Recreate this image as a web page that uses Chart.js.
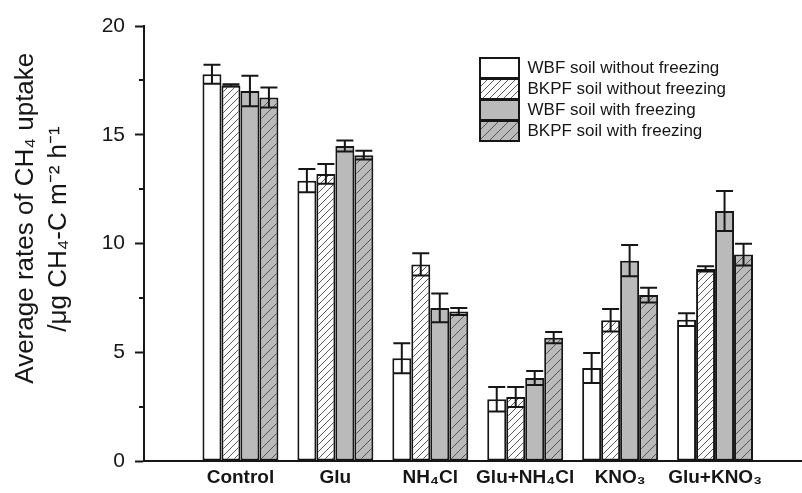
<!DOCTYPE html>
<html>
<head>
<meta charset="utf-8">
<script src="https://cdn.jsdelivr.net/npm/chart.js@4"></script>
<style>
  html, body { margin: 0; padding: 0; background: #fff; }
</style>
</head>
<body>
<canvas id="chart" width="802" height="493"></canvas>
<script>
var categories = ['Control', 'Glu', 'NH₄Cl', 'Glu+NH₄Cl', 'KNO₃', 'Glu+KNO₃'];
var seriesNames = ['WBF soil without freezing', 'BKPF soil without freezing', 'WBF soil with freezing', 'BKPF soil with freezing'];

var wbfNoFreeze = [17.78, 12.89, 4.72, 2.84, 4.28, 6.50];
var wbfNoFreezeErr = [0.44, 0.53, 0.69, 0.56, 0.69, 0.29];
var bkpfNoFreeze = [17.27, 13.20, 9.04, 2.94, 6.47, 8.83];
var bkpfNoFreezeErr = [0.05, 0.45, 0.51, 0.46, 0.52, 0.12];
var wbfFreeze = [17.01, 14.48, 7.04, 3.82, 9.21, 11.49];
var wbfFreezeErr = [0.70, 0.25, 0.66, 0.32, 0.72, 0.92];
var bkpfFreeze = [16.71, 14.06, 6.87, 5.67, 7.63, 9.49];
var bkpfFreezeErr = [0.46, 0.20, 0.16, 0.26, 0.34, 0.50];

var yTicks = [0, 5, 10, 15, 20];
var yMinorTicks = [2.5, 7.5, 12.5, 17.5];

var FONT = "'Liberation Sans', Arial, sans-serif";
var GRAY = '#bababa';
var INK = '#161616';

// diagonal hatch "///" as a canvas pattern
function hatch(bg, step) {
  var c = document.createElement('canvas');
  c.width = step; c.height = step;
  var g = c.getContext('2d');
  g.fillStyle = bg;
  g.fillRect(0, 0, step, step);
  g.strokeStyle = '#4a4a4a';
  g.lineWidth = 0.9;
  g.beginPath();
  g.moveTo(0, step); g.lineTo(step, 0);
  g.moveTo(-1, 1); g.lineTo(1, -1);
  g.moveTo(step - 1, step + 1); g.lineTo(step + 1, step - 1);
  g.stroke();
  return g.createPattern(c, 'repeat');
}

function points(values) {
  return values.map(function (v, i) { return { x: i, y: v }; });
}

function series(name, values, errs, fill) {
  return {
    label: name,
    data: points(values),
    errors: errs,
    backgroundColor: fill,
    borderColor: INK,
    borderWidth: 2,
    borderSkipped: false,
    categoryPercentage: 0.8,
    barPercentage: 1.0
  };
}

// symmetric error bars, drawn from the bar elements and the y scale
var errorBars = {
  id: 'errorBars',
  afterDatasetsDraw: function (chart) {
    var ctx = chart.ctx, y = chart.scales.y;
    ctx.save();
    ctx.strokeStyle = INK;
    ctx.lineWidth = 2;
    chart.data.datasets.forEach(function (ds, i) {
      chart.getDatasetMeta(i).data.forEach(function (bar, j) {
        var v = ds.data[j].y, e = ds.errors[j];
        var top = y.getPixelForValue(v + e), bot = y.getPixelForValue(v - e);
        var half = 8.5;
        ctx.beginPath();
        ctx.moveTo(bar.x, top); ctx.lineTo(bar.x, bot);
        ctx.moveTo(bar.x - half, top); ctx.lineTo(bar.x + half, top);
        ctx.moveTo(bar.x - half, bot); ctx.lineTo(bar.x + half, bot);
        ctx.stroke();
      });
    });
    ctx.restore();
  }
};

// short minor ticks between the labelled ones
var minorTicks = {
  id: 'minorTicks',
  afterDraw: function (chart) {
    var ctx = chart.ctx, y = chart.scales.y, x0 = chart.chartArea.left;
    ctx.save();
    ctx.strokeStyle = INK;
    ctx.lineWidth = 2;
    ctx.beginPath();
    yMinorTicks.forEach(function (v) {
      var py = Math.round(y.getPixelForValue(v));
      ctx.moveTo(x0 - 5, py); ctx.lineTo(x0, py);
    });
    ctx.stroke();
    ctx.restore();
  }
};

// put the legend box in the upper right of the plot
var legendPlace = {
  id: 'legendPlace',
  afterLayout: function (chart) {
    var lg = chart.legend;
    lg.left = 479; lg.top = 57;
    lg.right = lg.left + lg.width;
    lg.bottom = lg.top + lg.height;
  }
};

new Chart(document.getElementById('chart'), {
  type: 'bar',
  data: {
    datasets: [
      series(seriesNames[0], wbfNoFreeze, wbfNoFreezeErr, '#ffffff'),
      series(seriesNames[1], bkpfNoFreeze, bkpfNoFreezeErr, hatch('#ffffff', 7)),
      series(seriesNames[2], wbfFreeze, wbfFreezeErr, GRAY),
      series(seriesNames[3], bkpfFreeze, bkpfFreezeErr, hatch(GRAY, 10))
    ]
  },
  plugins: [errorBars, minorTicks, legendPlace],
  options: {
    responsive: false,
    animation: false,
    devicePixelRatio: 1,
    layout: { padding: { top: 26, right: 0, left: 0, bottom: 0 } },
    plugins: {
      tooltip: { enabled: false },
      legend: {
        position: 'chartArea',
        align: 'start',
        labels: {
          boxWidth: 39,
          boxHeight: 20,
          padding: 1,
          color: INK,
          font: { family: FONT, size: 17 }
        }
      }
    },
    scales: {
      x: {
        type: 'linear',
        min: -1.016,
        max: 5.916,
        offset: false,
        grid: { display: false, drawTicks: false, offset: false },
        border: { display: true, color: INK, width: 2 },
        afterBuildTicks: function (scale) {
          scale.ticks = categories.map(function (c, i) { return { value: i }; });
        },
        afterFit: function (scale) { scale.height = 32; },
        ticks: {
          autoSkip: false,
          maxRotation: 0,
          padding: 5,
          color: INK,
          font: { family: FONT, size: 19, weight: 'bold' },
          callback: function (v) { return categories[v]; }
        }
      },
      y: {
        min: 0,
        max: 20,
        afterBuildTicks: function (scale) {
          scale.ticks = yTicks.map(function (v) { return { value: v }; });
        },
        afterFit: function (scale) { scale.width = 144; },
        grid: { display: true, drawOnChartArea: false, drawTicks: true, tickLength: 9, tickColor: INK, tickWidth: 2 },
        border: { display: true, color: INK, width: 2 },
        ticks: {
          padding: 10,
          color: INK,
          font: { family: FONT, size: 21 }
        },
        title: {
          display: true,
          // leading spaces lift each line a little, as in the original
          text: ['       Average rates of CH₄ uptake', '    /μg CH₄-C m⁻² h⁻¹'],
          color: INK,
          padding: { top: 9, bottom: 0 },
          font: { family: FONT, size: 26, lineHeight: 1.27 }
        }
      }
    }
  }
});
</script>
</body>
</html>
